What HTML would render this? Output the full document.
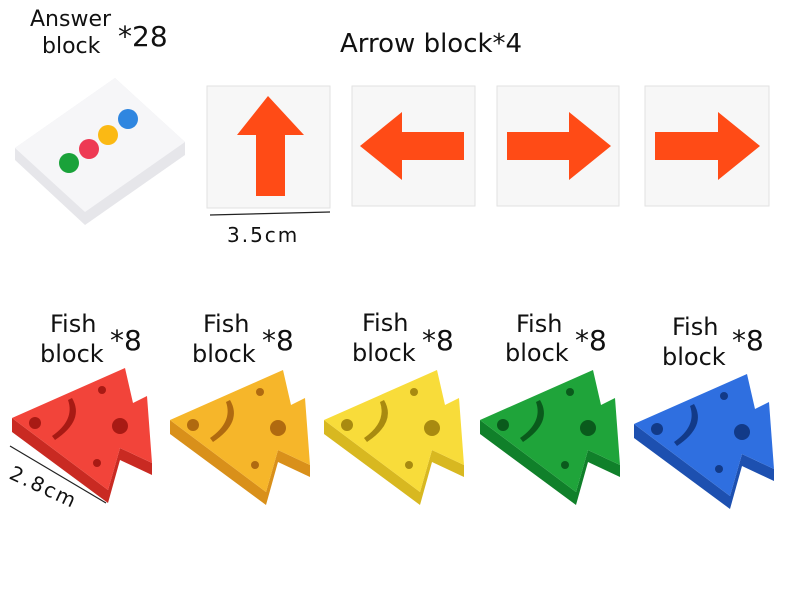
<!DOCTYPE html>
<html><head><style>
body{margin:0;background:#fff;}
svg{display:block;}
text{font-family:"DejaVu Sans","Liberation Sans",sans-serif;fill:#111;}
</style></head><body>
<svg width="790" height="594" viewBox="0 0 790 594" xmlns="http://www.w3.org/2000/svg">
<defs>
<g id="fish">
  <polygon points="12,418 125,368 133,403 147,396 152,463 120,448 108,490 12,430" fill="#000" opacity="0"/>
  <polygon points="12,418 108,490 108,503 12,432" fill="var(--d)"/>
  <polygon points="108,490 120,448 120,460 108,503" fill="var(--d)"/>
  <polygon points="120,448 152,463 152,475 120,460" fill="var(--d)"/>
  <polygon points="12,418 125,368 133,403 147,396 152,463 120,448 108,490" fill="var(--c)"/>
  <circle cx="35" cy="423" r="6" fill="var(--h)"/>
  <circle cx="102" cy="390" r="4" fill="var(--h)"/>
  <circle cx="120" cy="426" r="8" fill="var(--h)"/>
  <circle cx="97" cy="463" r="4" fill="var(--h)"/>
  <path d="M72,398 Q85,420 55,440 L52,436 Q75,420 68,400 Z" fill="var(--h)"/>
</g>
</defs>

<text x="30" y="26" font-size="22">Answer</text>
<text x="42" y="53" font-size="22">block</text>
<text x="118" y="46" font-size="28">*28</text>
<text x="340" y="52" font-size="26">Arrow block*4</text>

<!-- answer block -->
<polygon points="15,148 115,78 185,142 185,155 85,225 15,160" fill="#e6e6ea"/>
<polygon points="15,148 115,78 185,142 85,212" fill="#f6f6f8"/>
<circle cx="69" cy="163" r="10" fill="#1aa23a"/>
<circle cx="89" cy="149" r="10" fill="#ee3a54"/>
<circle cx="108" cy="135" r="10" fill="#fbb914"/>
<circle cx="128" cy="119" r="10" fill="#2f86e0"/>

<!-- arrow cards -->
<rect x="207" y="86" width="123" height="122" fill="#f7f7f7" stroke="#e2e2e2"/>
<polygon points="268,96 304,135 285,135 285,196 256,196 256,135 237,135" fill="#ff4b16"/>
<rect x="352" y="86" width="123" height="120" fill="#f7f7f7" stroke="#e2e2e2"/>
<polygon points="360,146 402,112 402,132 464,132 464,160 402,160 402,180" fill="#ff4b16"/>
<rect x="497" y="86" width="122" height="120" fill="#f7f7f7" stroke="#e2e2e2"/>
<polygon points="611,146 569,112 569,132 507,132 507,160 569,160 569,180" fill="#ff4b16"/>
<rect x="645" y="86" width="124" height="120" fill="#f7f7f7" stroke="#e2e2e2"/>
<polygon points="760,146 718,112 718,132 655,132 655,160 718,160 718,180" fill="#ff4b16"/>
<line x1="210" y1="215" x2="330" y2="212" stroke="#222" stroke-width="1.2"/>
<text x="227" y="242" font-size="20" letter-spacing="2">3.5cm</text>

<!-- fish labels -->
<g font-size="24">
<text x="50" y="332">Fish</text><text x="40" y="362">block</text><text x="110" y="350" font-size="28">*8</text>
<text x="203" y="332">Fish</text><text x="192" y="362">block</text><text x="262" y="350" font-size="28">*8</text>
<text x="362" y="331">Fish</text><text x="352" y="361">block</text><text x="422" y="350" font-size="28">*8</text>
<text x="516" y="332">Fish</text><text x="505" y="361">block</text><text x="575" y="350" font-size="28">*8</text>
<text x="672" y="335">Fish</text><text x="662" y="365">block</text><text x="732" y="350" font-size="28">*8</text>
</g>

<use href="#fish" style="--c:#f2443a;--d:#c92a22;--h:#a81a14"/>
<use href="#fish" transform="translate(158,2)" style="--c:#f6b62a;--d:#d9901a;--h:#b06a10"/>
<use href="#fish" transform="translate(312,2)" style="--c:#f8dc3a;--d:#d8b820;--h:#a88a10"/>
<use href="#fish" transform="translate(468,2)" style="--c:#1fa43a;--d:#10802a;--h:#0a5a1c"/>
<use href="#fish" transform="translate(622,6)" style="--c:#2f6fe0;--d:#1d50b0;--h:#123a88"/>

<line x1="10" y1="446" x2="106" y2="503" stroke="#222" stroke-width="1.2"/>
<text x="0" y="0" font-size="20" letter-spacing="2" transform="translate(8,478) rotate(25)">2.8cm</text>
</svg>
</body></html>
